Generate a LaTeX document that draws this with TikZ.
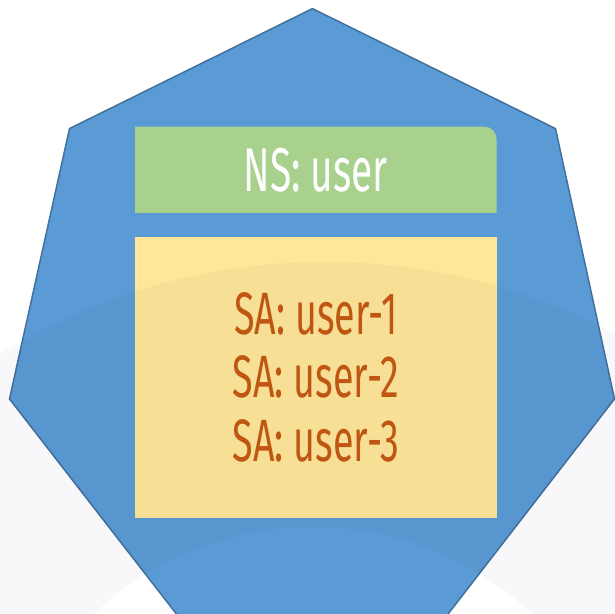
\documentclass[tikz,border=0pt]{standalone}
\usepackage{fontspec}
\usepackage{tikz}
\usetikzlibrary{
    positioning,
    calc
}

\newfontfamily\agency[FakeStretch=0.63]{Fira Sans}

\definecolor{hepblue}{HTML}{5B9BD5}
\definecolor{hepline}{HTML}{41719C}
\definecolor{nsgreen}{HTML}{A9D18E}
\definecolor{sayellow}{HTML}{FFE699}
\definecolor{saorange}{HTML}{C55A11}
\definecolor{ringshade}{RGB}{20,20,80}

\begin{document}
\begin{tikzpicture}[
    x=1bp, y=1bp,
    hept/.style={fill=hepblue, draw=hepline, line width=1.5bp},
    nslab/.style={font=\agency\fontsize{62}{64}\selectfont, text=white,
                  inner sep=0pt},
    sabox/.style={rectangle, fill=sayellow, minimum width=361.5bp,
                  minimum height=280.6bp, inner sep=0pt, align=center,
                  font=\agency\fontsize{60}{63.5}\selectfont, text=saorange},
    ring/.style={fill=ringshade, fill opacity=0.033, even odd rule}
]
\useasboundingbox (0,0) rectangle (615,614);

% =========================
% 1) HEPTAGON
% =========================
\draw[hept] (312.5,605.4) -- (555.5,485.4) -- (614.5,215)
    -- (447.3,-1) -- (177.2,-1) -- (9.5,215) -- (69.5,485.4) -- cycle;

% =========================
% 2) NAMESPACE (TOP)
% =========================
\coordinate (nsSW) at (135,401);
\coordinate (nsNE) at (496.5,487.3);
\fill[nsgreen] (nsSW) |- ([xshift=-12bp]nsNE)
    arc[start angle=90, end angle=0, radius=12bp] |- cycle;
\node[nslab] (ns) at ($(nsSW)!0.5!(nsNE)$) {NS: user};

% =========================
% 3) SERVICE ACCOUNTS
% =========================
\node[sabox] (sa) at (315.75,236.7)
    {SA: user-1\\SA: user-2\\SA: user-3};

% faint ring over everything
\fill[ring] (325,-268) circle[radius=620] (313,-233) circle[radius=320];

\end{tikzpicture}
\end{document}
